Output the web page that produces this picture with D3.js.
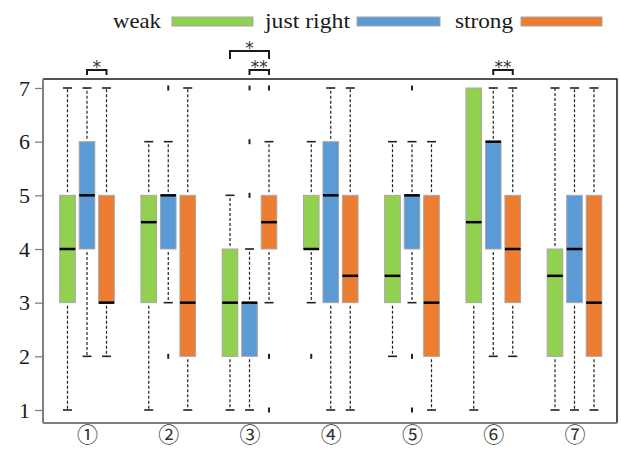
<!DOCTYPE html>
<html>
<head>
<meta charset="utf-8">
<script src="https://cdn.jsdelivr.net/npm/d3@7"></script>
<style>
  body { margin: 0; background: #fff; }
  svg { display: block; }
</style>
</head>
<body>
<div id="chart"></div>
<script>
// categories and series
var groups = ["①", "②", "③", "④", "⑤", "⑥", "⑦"];
var series = ["weak", "just right", "strong"];
var colors = ["#92d050", "#5b9bd5", "#ed7d31"];
var yTicks = [1, 2, 3, 4, 5, 6, 7];

// box stats per group: [whisker low, q1, median, q3, whisker high]
var weakBox = [[1, 3, 4, 5, 7], [1, 3, 4.5, 5, 6], [1, 2, 3, 4, 5], [3, 4, 4, 5, 6], [2, 3, 3.5, 5, 6], [1, 3, 4.5, 7, 7], [1, 2, 3.5, 4, 7]];
var rightBox = [[2, 4, 5, 6, 7], [3, 4, 5, 5, 6], [1, 2, 3, 3, 4], [1, 3, 5, 6, 7], [3, 4, 5, 5, 6], [2, 4, 6, 6, 7], [1, 3, 4, 5, 7]];
var strongBox = [[2, 3, 3, 5, 7], [1, 2, 3, 5, 7], [3, 4, 4.5, 5, 6], [1, 3, 3.5, 5, 7], [1, 2, 3, 5, 6], [2, 3, 4, 5, 7], [1, 2, 3, 5, 7]];

// outliers per group
var weakOut = [[], [], [], [2], [], [], []];
var rightOut = [[], [2, 7], [5, 6, 7], [], [1, 2, 7], [], []];
var strongOut = [[], [], [1, 2, 7], [], [], [], []];

// significance marks: group index, series a, series b, label, level
var sigGroup = [0, 2, 2, 5];
var sigFrom = [1, 0, 1, 1];
var sigTo = [2, 2, 2, 2];
var sigLabel = ["*", "*", "**", "**"];
var sigLevel = [0, 1, 0, 0];

var boxes = [weakBox, rightBox, strongBox];
var outs = [weakOut, rightOut, strongOut];

var serifFont = "Liberation Serif, DejaVu Serif, serif";

var svgWidth = 621, svgHeight = 449;
var frame = { left: 43, right: 617, top: 79, bottom: 423 };

var svg = d3.select("#chart").append("svg")
  .attr("width", svgWidth)
  .attr("height", svgHeight);

var x = d3.scalePoint().domain(groups).range([87, 574.5]);
var xInner = d3.scaleBand().domain(series).range([-27.3, 27.3]).paddingInner(0.2);
var y = d3.scaleLinear().domain([1, 7]).range([410, 88]);
var bw = xInner.bandwidth();

// frame: top and right in black
svg.append("path")
  .attr("d", `M${frame.left},${frame.top}H${frame.right}V${frame.bottom}`)
  .attr("fill", "none")
  .attr("stroke", "#1a1a1a")
  .attr("stroke-width", 1.5);

// left axis
var leftAxis = d3.axisLeft(y).tickValues(yTicks).tickSize(8).tickPadding(5).tickFormat(d3.format("d"));
var gy = svg.append("g")
  .attr("transform", `translate(${frame.left},0)`)
  .call(leftAxis)
  .attr("font-family", serifFont)
  .attr("font-size", 22);
gy.select(".domain").remove();
gy.selectAll(".tick line").attr("stroke", "#808080").attr("stroke-width", 1.3);
gy.selectAll(".tick text").attr("fill", "#1a1a1a");
svg.append("line")
  .attr("x1", frame.left).attr("x2", frame.left)
  .attr("y1", frame.top).attr("y2", frame.bottom)
  .attr("stroke", "#808080").attr("stroke-width", 2);

// bottom axis
var bottomAxis = d3.axisBottom(x).tickSize(0).tickPadding(4);
var gx = svg.append("g")
  .attr("transform", `translate(0,${frame.bottom})`)
  .call(bottomAxis)
  .attr("font-family", "Noto Sans CJK SC, sans-serif")
  .attr("font-size", 21);
gx.select(".domain").remove();
gx.selectAll(".tick text").attr("fill", "#333");
svg.append("line")
  .attr("x1", frame.left).attr("x2", frame.right)
  .attr("y1", frame.bottom).attr("y2", frame.bottom)
  .attr("stroke", "#808080").attr("stroke-width", 2);

// boxes
series.forEach(function(s, si) {
  var g = svg.append("g");
  boxes[si].forEach(function(b, gi) {
    var cx = x(groups[gi]) + xInner(s) + bw / 2;
    var left = cx - bw / 2;
    // whiskers
    if (b[4] > b[3]) {
      g.append("line")
        .attr("x1", cx).attr("x2", cx)
        .attr("y1", y(b[3]) - 3).attr("y2", y(b[4]))
        .attr("stroke", "#222").attr("stroke-width", 1.2)
        .attr("stroke-dasharray", "3,2");
      g.append("line")
        .attr("x1", cx - 4.5).attr("x2", cx + 4.5)
        .attr("y1", y(b[4])).attr("y2", y(b[4]))
        .attr("stroke", "#222").attr("stroke-width", 1.6);
    }
    if (b[0] < b[1]) {
      g.append("line")
        .attr("x1", cx).attr("x2", cx)
        .attr("y1", y(b[1]) + 3).attr("y2", y(b[0]))
        .attr("stroke", "#222").attr("stroke-width", 1.2)
        .attr("stroke-dasharray", "3,2");
      g.append("line")
        .attr("x1", cx - 4.5).attr("x2", cx + 4.5)
        .attr("y1", y(b[0])).attr("y2", y(b[0]))
        .attr("stroke", "#222").attr("stroke-width", 1.6);
    }
    // box
    g.append("rect")
      .attr("x", left)
      .attr("y", y(b[3]))
      .attr("width", bw)
      .attr("height", y(b[1]) - y(b[3]))
      .attr("fill", colors[si])
      .attr("stroke", "#a6a6a6")
      .attr("stroke-width", 1);
    // median
    g.append("line")
      .attr("x1", left).attr("x2", left + bw)
      .attr("y1", y(b[2])).attr("y2", y(b[2]))
      .attr("stroke", "#000").attr("stroke-width", 2.5);
    // outliers
    outs[si][gi].forEach(function(v) {
      g.append("rect")
        .attr("x", cx - 1).attr("y", y(v) - 2.5)
        .attr("width", 2).attr("height", 5)
        .attr("fill", "#222");
    });
  });
});

// significance brackets
sigGroup.forEach(function(gi, i) {
  var x1 = x(groups[gi]) + xInner(series[sigFrom[i]]) + bw / 2;
  var x2 = x(groups[gi]) + xInner(series[sigTo[i]]) + bw / 2;
  var top = sigLevel[i] === 0 ? 70 : 51;
  var leg = sigLevel[i] === 0 ? 5 : 8;
  svg.append("path")
    .attr("d", `M${x1},${top + leg}V${top}H${x2}V${top + leg}`)
    .attr("fill", "none")
    .attr("stroke", "#1a1a1a")
    .attr("stroke-width", 2);
  svg.append("text")
    .attr("x", (x1 + x2) / 2)
    .attr("y", top + 3)
    .attr("text-anchor", "middle")
    .attr("font-family", "DejaVu Sans, sans-serif")
    .attr("font-size", 17)
    .attr("fill", "#333")
    .text(sigLabel[i]);
});

// legend
var legendText = [113, 265, 455];
var legendTextW = [48, 85, 58];
var legendRect = [172, 357, 521];
var legendRectW = [81, 83, 81];
series.forEach(function(s, i) {
  svg.append("text")
    .attr("x", legendText[i])
    .attr("y", 28)
    .attr("font-family", serifFont)
    .attr("font-size", 22)
    .attr("fill", "#1a1a1a")
    .attr("textLength", legendTextW[i])
    .attr("lengthAdjust", "spacingAndGlyphs")
    .text(s);
  svg.append("rect")
    .attr("x", legendRect[i])
    .attr("y", 17)
    .attr("width", legendRectW[i])
    .attr("height", 9)
    .attr("fill", colors[i])
    .attr("stroke", "#a6a6a6")
    .attr("stroke-width", 1);
});
</script>
</body>
</html>
